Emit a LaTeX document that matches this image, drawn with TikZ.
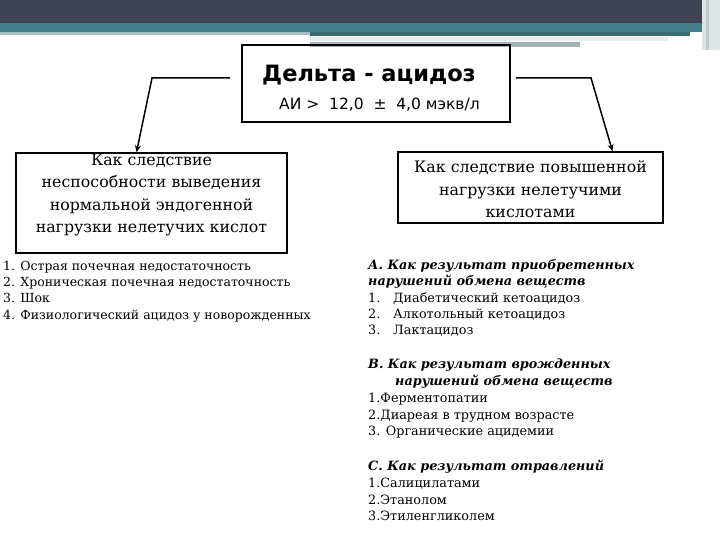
\documentclass[tikz,border=0pt]{standalone}
\usepackage{fontspec}
\setmainfont{DejaVu Serif}
\setsansfont{DejaVu Sans}
\usetikzlibrary{arrows.meta,positioning}
\definecolor{bandDark}{HTML}{3F4454}
\definecolor{bandTeal}{HTML}{45808A}
\definecolor{bandLight}{HTML}{A9BCC2}
\definecolor{bandPale}{HTML}{E6F0F0}
\definecolor{bandGrey}{HTML}{A4B4B6}
\tikzset{%
  cause box/.style={%
    draw,
    line width=1.6pt,
    inner sep=0pt
  },
  cause text/.style={%
    align=center,
    inner sep=0pt,
    font=\fontsize{15.8}{22.5}\selectfont
  },
  cause link/.style={%
    line width=1.5pt,
    >={Stealth[length=7pt,width=6pt]},
    ->
  },
  list text/.style={%
    anchor=north west,
    align=left,
    inner sep=0pt,
    font=\fontsize{12.5}{16.2}\selectfont
  }
}

\begin{document}
\begin{tikzpicture}[x=1pt,y=-1pt]
  \useasboundingbox (0,0) rectangle (720,540);
  \fill[bandDark] (0,0) rectangle (720,23);
  \fill[bandTeal] (0,23) rectangle (720,32);
  \fill[bandLight] (0,32) rectangle (310,35);
  \fill[bandTeal!85!black] (310,32) rectangle (690,36);
  \fill[bandPale] (310,37) rectangle (668,41);
  \fill[bandGrey] (310,42) rectangle (580,47);
  \fill[bandGrey!35] (702,0) rectangle (720,50);
  \fill[bandGrey!70] (706,0) rectangle (709,50);

  \node[cause box, minimum width=268pt, minimum height=77pt] (delta) at (376,83.5) {};
  \node[inner sep=0pt, font=\sffamily\bfseries\fontsize{22.5}{26}\selectfont] (title) at (369,75) {Дельта - ацидоз};
  \node[inner sep=0pt, font=\sffamily\fontsize{15.5}{18}\selectfont] (ai) at (379.5,105) {АИ >\ \ 12,0\ \ ±\ \ 4,0 мэкв/л};

  \node[cause box, minimum width=271pt, minimum height=100pt] (leftbox) at (151.5,203) {};
  \node[cause text] (leftcap) at (151.5,195) {Как следствие\\неспособности выведения\\нормальной эндогенной\\нагрузки нелетучих кислот};
  \node[cause box, minimum width=265pt, minimum height=71pt] (rightbox) at (530.5,187.5) {};
  \node[cause text] (rightcap) at (530.5,189.5) {Как следствие повышенной\\нагрузки нелетучими\\кислотами};

  \coordinate (lbend) at (152,78);
  \coordinate (rbend) at (591,78);
  \draw[cause link] ([xshift=-11pt]delta.west |- lbend) -- (lbend) -- ([xshift=-15pt]leftbox.north);
  \draw[cause link] ([xshift=5pt]delta.east |- rbend) -- (rbend) -- ([xshift=82pt]rightbox.north);

  \node[list text] (leftlist) at (3,261) {1. Острая почечная недостаточность\\2. Хроническая почечная недостаточность\\3. Шок\\4. Физиологический ацидоз у новорожденных};

  \node[list text, font=\fontsize{12.8}{16.4}\selectfont] (lista) at (368,259) {\textbf{\textit{А. Как результат приобретенных}}\\\textbf{\textit{нарушений обмена веществ}}\\\makebox[25pt][l]{1.}Диабетический кетоацидоз\\\makebox[25pt][l]{2.}Алкотольный кетоацидоз\\\makebox[25pt][l]{3.}Лактацидоз};
  \node[list text, font=\fontsize{12.8}{16.7}\selectfont] (listb) at (368,359) {\textbf{\textit{В. Как результат врожденных}}\\\hspace*{27pt}\textbf{\textit{нарушений обмена веществ}}\\1.Ферментопатии\\2.Диареая в трудном возрасте\\3. Органические ацидемии};
  \node[list text, font=\fontsize{12.8}{16.7}\selectfont] (listc) at (368,460) {\textbf{\textit{С. Как результат отравлений}}\\1.Салицилатами\\2.Этанолом\\3.Этиленгликолем};
\end{tikzpicture}
\end{document}
